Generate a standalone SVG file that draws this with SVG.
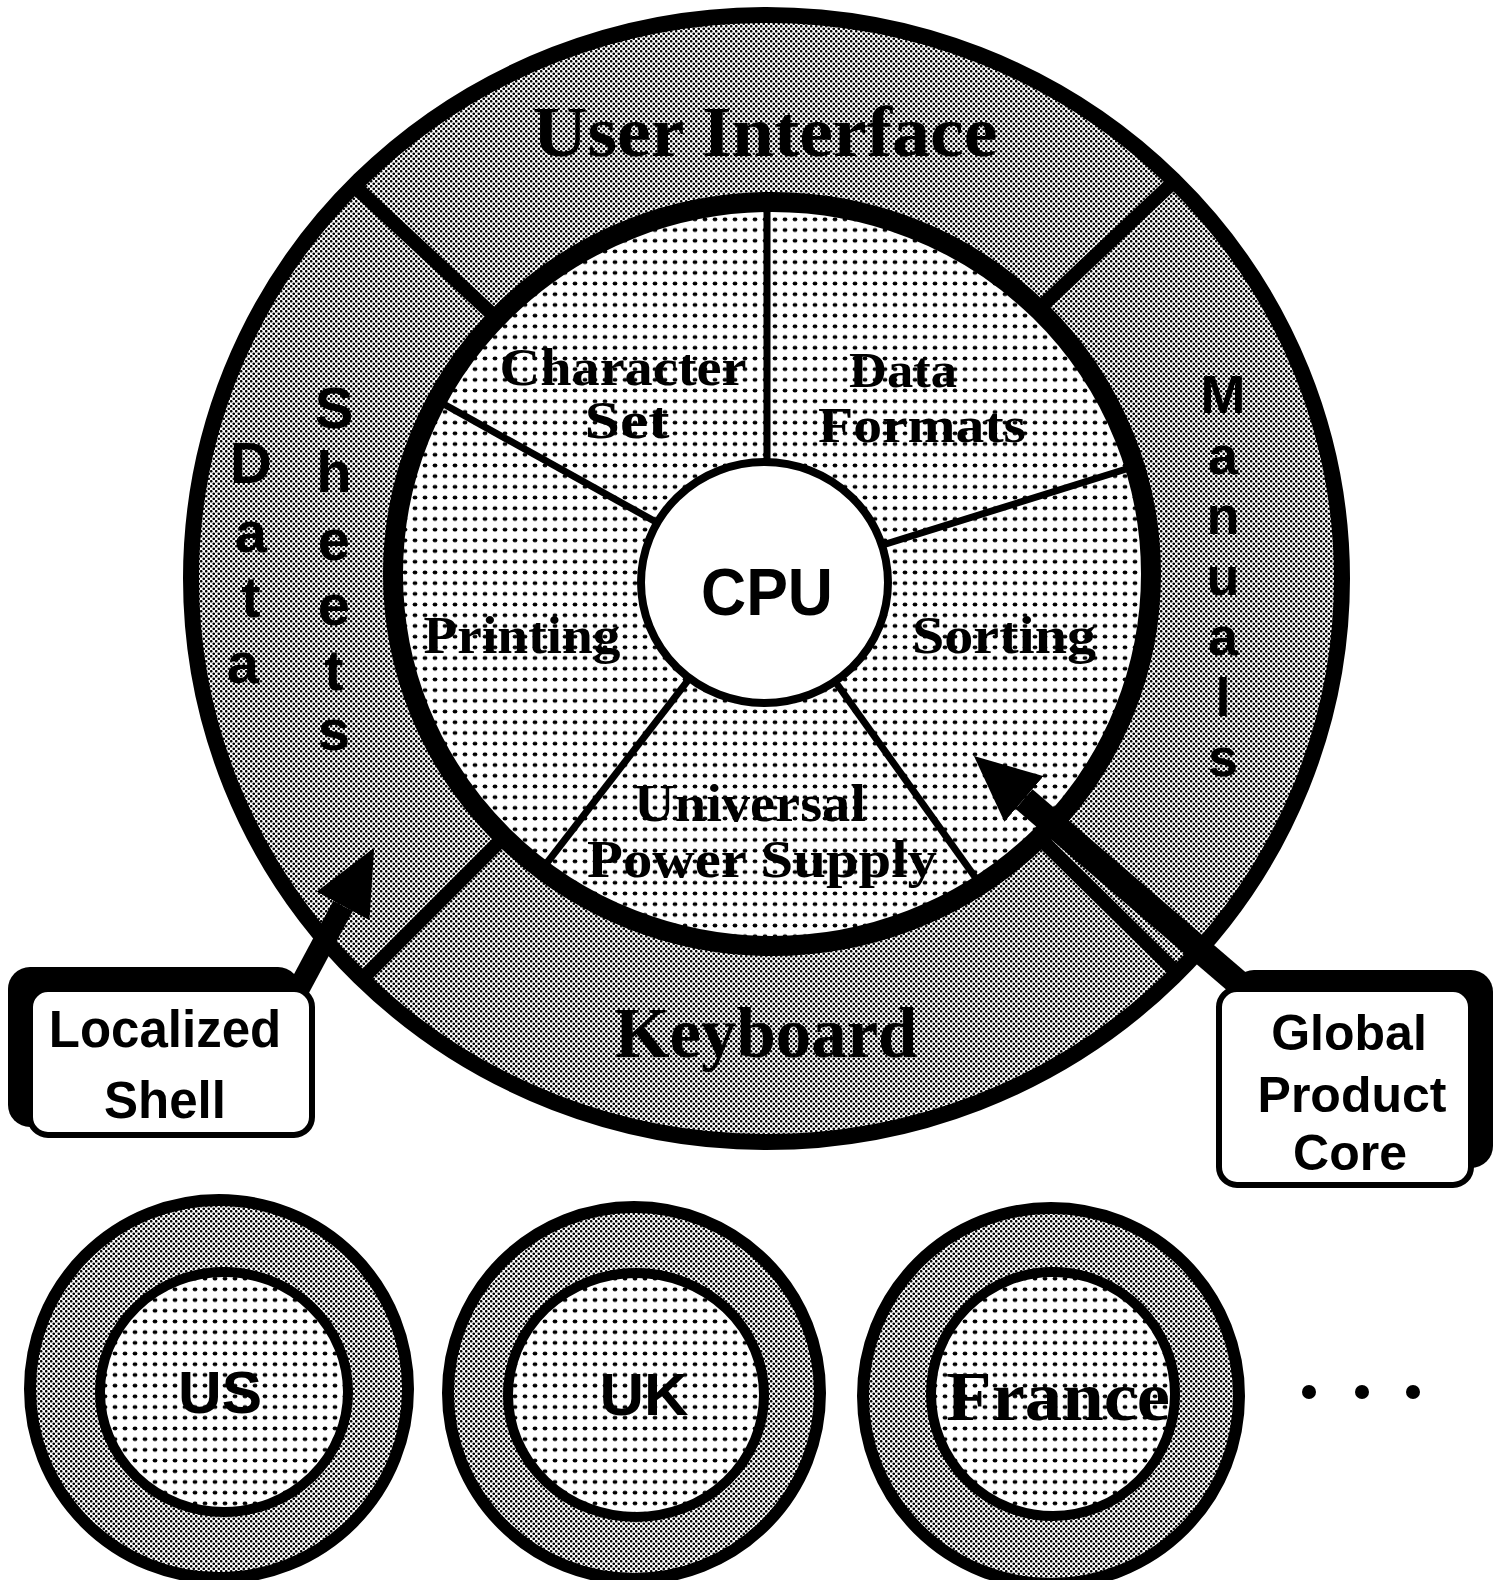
<svg xmlns="http://www.w3.org/2000/svg" width="1502" height="1580" viewBox="0 0 1502 1580">
<defs>
<pattern id="halftone" width="5" height="5" patternUnits="userSpaceOnUse">
<rect width="5" height="5" fill="#fff"/>
<circle cx="1.25" cy="1.25" r="1.3" fill="#000"/>
<circle cx="3.75" cy="3.75" r="1.3" fill="#000"/>
</pattern>
<pattern id="dots" width="10" height="10.7" patternUnits="userSpaceOnUse">
<rect width="10" height="10.7" fill="#fff"/>
<ellipse cx="5" cy="5.35" rx="2.4" ry="1.9" fill="#000"/>
</pattern>
<clipPath id="outerClip"><ellipse cx="766.5" cy="578.5" rx="575" ry="563"/></clipPath>
<marker id="head" markerUnits="userSpaceOnUse" markerWidth="66" markerHeight="60" viewBox="0 0 66 60" refX="0" refY="30" orient="auto">
<path d="M0,0 L66,30 L0,60 Z" fill="#000"/>
</marker>
<style>
.serif{font-family:"Liberation Serif","DejaVu Serif",serif;font-weight:bold;text-anchor:middle;fill:#000}
.sans{font-family:"Liberation Sans","DejaVu Sans",Arial,sans-serif;font-weight:bold;text-anchor:middle;fill:#000}
.ring{fill:url(#halftone)}
.core{fill:url(#dots)}
.div{stroke:#000;stroke-width:14}
.spoke{stroke:#000;stroke-width:7}
.shaft{stroke:#000;fill:none;marker-end:url(#head)}
</style>
</defs>
<rect width="1502" height="1580" fill="#fff"/>

<g id="localized-shell-ring">
<ellipse class="ring" cx="766.5" cy="578.5" rx="575.5" ry="563.5"/>
<g clip-path="url(#outerClip)">
<line class="div" x1="350" y1="182" x2="520" y2="340"/>
<line class="div" x1="1200" y1="157" x2="1010" y2="336"/>
<line class="div" x1="520" y1="821" x2="330" y2="1011"/>
<line class="div" x1="1010" y1="809" x2="1230" y2="1025"/>
</g>
</g>

<g id="global-core">
<ellipse class="core" cx="772" cy="574" rx="379" ry="372" stroke="#000" stroke-width="20"/>
<line class="spoke" x1="767" y1="582" x2="767" y2="202"/>
<line class="spoke" x1="764" y1="582" x2="440" y2="402"/>
<line class="spoke" x1="764" y1="582" x2="1136" y2="466"/>
<line class="spoke" x1="764" y1="582" x2="543" y2="868"/>
<line class="spoke" x1="764" y1="582" x2="980" y2="884"/>
</g>

<g id="cpu">
<ellipse cx="764.5" cy="582.5" rx="123.5" ry="120.5" fill="#fff" stroke="#000" stroke-width="8"/>
<text class="sans" x="767" y="615" font-size="66" textLength="132" lengthAdjust="spacingAndGlyphs">CPU</text>
</g>

<ellipse cx="766.5" cy="578.5" rx="575.5" ry="563.5" fill="none" stroke="#000" stroke-width="16"/>

<g id="user-interface"><text class="serif" x="765" y="156" font-size="72" textLength="465" lengthAdjust="spacingAndGlyphs">User Interface</text></g>
<g id="keyboard"><text class="serif" x="766" y="1057" font-size="71" textLength="303" lengthAdjust="spacingAndGlyphs">Keyboard</text></g>
<g id="data-sheets"><text class="sans" font-size="58">
<tspan x="251" y="483">D</tspan><tspan x="251" y="552">a</tspan><tspan x="251" y="617">t</tspan><tspan x="251" y="683">a</tspan>
<tspan x="334" y="428">S</tspan><tspan x="334" y="492">h</tspan><tspan x="334" y="560">e</tspan><tspan x="334" y="625">e</tspan><tspan x="334" y="690">t</tspan><tspan x="334" y="750">s</tspan>
</text></g>
<g id="manuals"><text class="sans" font-size="54">
<tspan x="1223" y="413">M</tspan><tspan x="1223" y="473.5">a</tspan><tspan x="1223" y="534">n</tspan><tspan x="1223" y="594.5">u</tspan><tspan x="1223" y="655">a</tspan><tspan x="1223" y="715.5">l</tspan><tspan x="1223" y="776">s</tspan>
</text></g>

<g id="character-set"><text class="serif" font-size="52"><tspan x="623" y="385" textLength="247" lengthAdjust="spacingAndGlyphs">Character</tspan><tspan x="627" y="438" textLength="85" lengthAdjust="spacingAndGlyphs">Set</tspan></text></g>
<g id="data-formats"><text class="serif" font-size="51"><tspan x="903" y="387" textLength="108" lengthAdjust="spacingAndGlyphs">Data</tspan><tspan x="922" y="442" textLength="208" lengthAdjust="spacingAndGlyphs">Formats</tspan></text></g>
<g id="printing"><text class="serif" x="522" y="653" font-size="52" textLength="197" lengthAdjust="spacingAndGlyphs">Printing</text></g>
<g id="sorting"><text class="serif" x="1004" y="653" font-size="52" textLength="184" lengthAdjust="spacingAndGlyphs">Sorting</text></g>
<g id="universal-power-supply"><text class="serif" font-size="52"><tspan x="750" y="821" textLength="232" lengthAdjust="spacingAndGlyphs">Universal</tspan><tspan x="762" y="877" textLength="350" lengthAdjust="spacingAndGlyphs">Power Supply</tspan></text></g>

<g id="connectors">
<line class="shaft" stroke-width="22" x1="298" y1="990" x2="343" y2="906"/>
<line class="shaft" stroke-width="26" x1="1250" y1="993" x2="1024" y2="799"/>
</g>

<g id="box-localized-shell">
<rect x="8" y="967" width="292" height="160" rx="22" fill="#000"/>
<rect x="30" y="989" width="282" height="146" rx="18" fill="#fff" stroke="#000" stroke-width="6"/>
<text class="sans" font-size="51"><tspan x="165" y="1047">Localized</tspan><tspan x="165" y="1118">Shell</tspan></text>
</g>

<g id="box-global-product-core">
<rect x="1232" y="970" width="261" height="198" rx="22" fill="#000"/>
<rect x="1219" y="989" width="252" height="196" rx="18" fill="#fff" stroke="#000" stroke-width="6"/>
<text class="sans" font-size="50"><tspan x="1349" y="1050">Global</tspan><tspan x="1352" y="1112">Product</tspan><tspan x="1350" y="1170">Core</tspan></text>
</g>

<g id="country-us">
<circle class="ring" cx="219" cy="1389" r="189" stroke="#000" stroke-width="12"/>
<ellipse class="core" cx="224" cy="1392" rx="124" ry="120" stroke="#000" stroke-width="10"/>
<text class="sans" x="220" y="1413" font-size="60" textLength="84" lengthAdjust="spacingAndGlyphs">US</text>
</g>
<g id="country-uk">
<circle class="ring" cx="634" cy="1393" r="186" stroke="#000" stroke-width="12"/>
<ellipse class="core" cx="636" cy="1395" rx="128" ry="122" stroke="#000" stroke-width="10"/>
<text class="sans" x="644" y="1415" font-size="60" textLength="89" lengthAdjust="spacingAndGlyphs">UK</text>
</g>
<g id="country-france">
<circle class="ring" cx="1051" cy="1396" r="188" stroke="#000" stroke-width="12"/>
<ellipse class="core" cx="1053" cy="1394" rx="122" ry="122" stroke="#000" stroke-width="10"/>
<text class="serif" x="1058" y="1420" font-size="70" textLength="224" lengthAdjust="spacingAndGlyphs">France</text>
</g>
<g id="ellipsis">
<circle cx="1309" cy="1392" r="7"/>
<circle cx="1362" cy="1392" r="7"/>
<circle cx="1413" cy="1392" r="7"/>
</g>
</svg>
